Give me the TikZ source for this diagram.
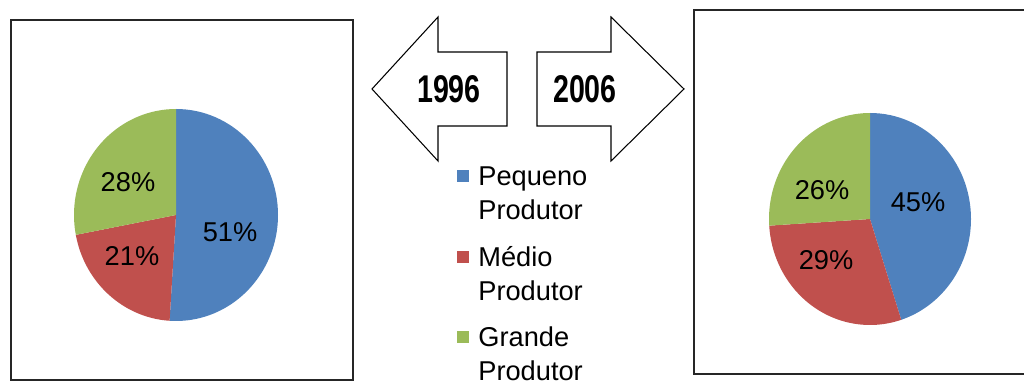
\documentclass[tikz,border=0pt]{standalone}
\usepackage{fontspec}
\setmainfont{Liberation Sans}
\definecolor{pieblue}{HTML}{4F81BD}
\definecolor{piered}{HTML}{C0504D}
\definecolor{piegreen}{HTML}{9BBB59}
\tikzset{
  frame/.style={draw=black!85, line width=1.1pt},
  yeararrow/.style={draw=black, line width=0.6pt, fill=white, line join=miter},
  yeartext/.style={font=\fontsize{22}{24}\selectfont\bfseries, xscale=0.74},
  pct/.style={font=\fontsize{15.5}{18}\selectfont},
  legtext/.style={font=\fontsize{15.5}{19.3}\selectfont, align=left, anchor=west, inner sep=0pt},
  legbox/.style={minimum size=12*0.02cm, inner sep=0pt}
}
\begin{document}
\begin{tikzpicture}[x=0.02cm, y=0.02cm]
        \useasboundingbox (0,0) rectangle (1024,382);

        % frames
        \draw[frame] (11,2) rectangle (353,362);
        \draw[frame] (694,8) rectangle (1030,372);

        % pies
        \coordinate (L) at (176,167);
        \coordinate (R) at (870,163);
        \foreach \a/\b/\c in {90/-93.6/pieblue, -93.6/-169.2/piered, -169.2/-270/piegreen}
          \fill[\c] (L) -- ++(\a:102 and 106) arc[start angle=\a, end angle=\b, x radius=102, y radius=106] -- cycle;
        \foreach \a/\b/\c in {90/-72/pieblue, -72/-176.4/piered, -176.4/-270/piegreen}
          \fill[\c] (R) -- ++(\a:101 and 106) arc[start angle=\a, end angle=\b, x radius=101, y radius=106] -- cycle;

        \node[pct] (p51) at (230,150) {51\%};
        \node[pct] (p21) at (132,126) {21\%};
        \node[pct] (p28) at (128,200) {28\%};
        \node[pct] (p45) at (918,180) {45\%};
        \node[pct] (p29) at (826,122) {29\%};
        \node[pct] (p26) at (822,192) {26\%};

        % year arrows
        \draw[yeararrow] (372,293) -- (438,365) -- (438,330) -- (507,330)
          -- (507,256) -- (438,256) -- (438,221) -- cycle;
        \draw[yeararrow] (684,293) -- (611,365) -- (611,330) -- (537,330)
          -- (537,256) -- (611,256) -- (611,221) -- cycle;
        \node[yeartext] (y1996) at (449,293) {1996};
        \node[yeartext] (y2006) at (585,293) {2006};

        % legend
        \node[legbox, fill=pieblue] (kp) at (463,206) {};
        \node[legbox, fill=piered] (km) at (463,125) {};
        \node[legbox, fill=piegreen] (kg) at (463,45) {};
        \node[legtext] (lp) at (478,189) {Pequeno\\Produtor};
        \node[legtext] (lm) at (478,108) {Médio\\Produtor};
        \node[legtext] (lg) at (478,28) {Grande\\Produtor};
      \end{tikzpicture}
\end{document}
